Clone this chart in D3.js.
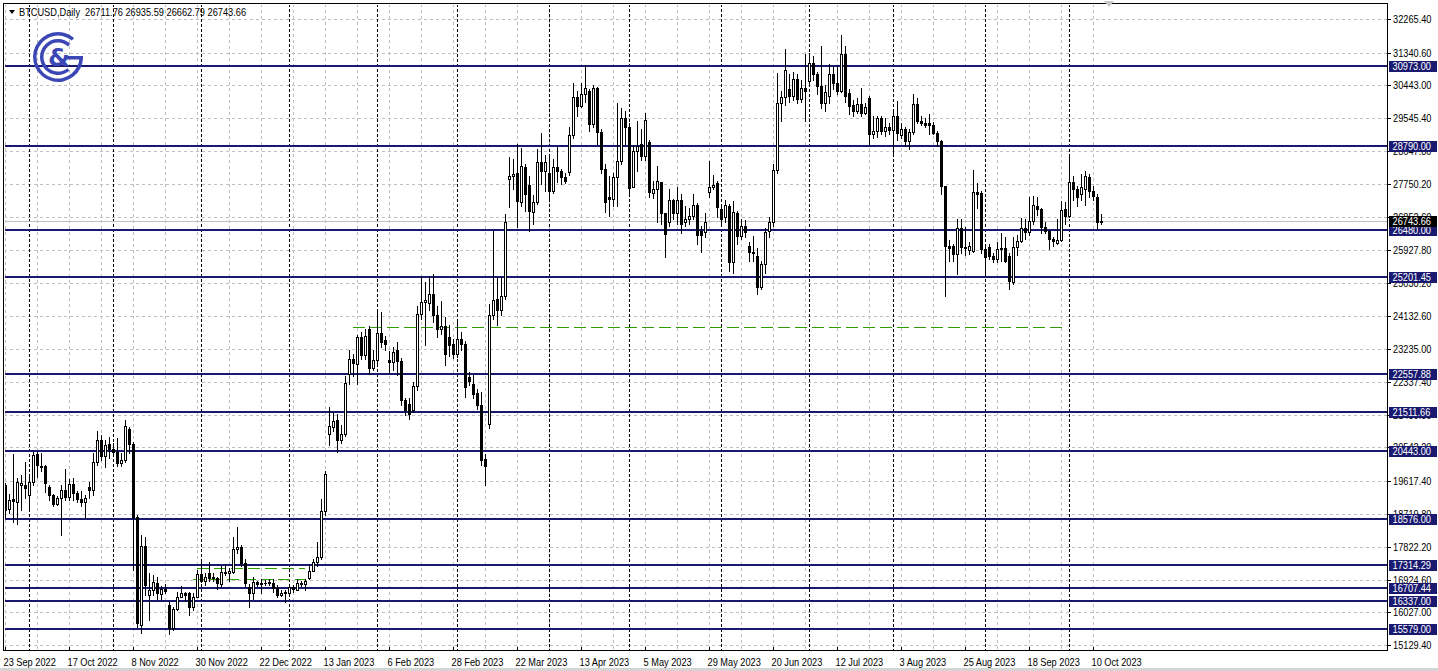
<!DOCTYPE html>
<html><head><meta charset="utf-8">
<script src="https://cdn.jsdelivr.net/npm/d3@7"></script>
<style>
html,body{margin:0;padding:0;background:#fff;overflow:hidden;}
svg{display:block;}
text{font-family:"Liberation Sans",Arial,sans-serif;font-size:11px;}
</style></head><body>
<svg id="c" width="1438" height="671"></svg>
<script>
// ---------------- DATA ----------------
const symbolTitle = "BTCUSD,Daily";
const lastQuote = [26711.76, 26935.59, 26662.79, 26743.66];
const firstDay = new Date(2022, 8, 23), lastDay = new Date(2023, 9, 12);
const priceTicks = [32265.40,31340.60,30443.00,29545.40,28647.80,27750.20,26852.60,25927.80,25030.20,24132.60,23235.00,22337.40,21439.80,20542.20,19617.40,18719.80,17822.20,16924.60,16027.00,15129.40];
const levels = [30973.00,28790.00,26480.00,25201.45,22557.88,21511.66,20443.00,18576.00,17314.29,16707.44,16337.00,15579.00];
const dateTickLabels = ["23 Sep 2022","17 Oct 2022","8 Nov 2022","30 Nov 2022","22 Dec 2022","13 Jan 2023","6 Feb 2023","28 Feb 2023","22 Mar 2023","13 Apr 2023","5 May 2023","29 May 2023","20 Jun 2023","12 Jul 2023","3 Aug 2023","25 Aug 2023","18 Sep 2023","10 Oct 2023"];
const greenLevels = [{p:23830, from:"2023-01-24", to:"2023-09-29"},{p:17252, from:"2022-11-30", to:"2023-01-06"},{p:16935, from:"2022-11-29", to:"2023-01-06"}];
// OHLC per month (weekday bars): [open, high, low, close]
const sep22 = [[19510,19560,18600,18830],[18870,19280,18740,19100],[19120,20370,18500,19070],[19050,19700,18460,19600],[19510,19780,18830,19560],[19510,20145,19145,19420]];
const oct22 = [[19240,19740,18830,19600],[19600,20420,19500,20330],[20370,20420,19740,20055],[20000,20400,19900,20030],[20030,20060,19330,19555],[19460,19520,19100,19230],[19230,19260,18950,19000],[18980,19220,18960,19160],[19160,19500,18150,19380],[19380,19940,19100,19180],[19190,19690,19100,19530],[19530,19700,19100,19300],[19300,19350,19050,19130],[19130,19350,18930,19040],[19040,19250,18600,19160],[19460,19600,19150,19370],[19370,20400,19250,20145],[20145,20990,20060,20740],[20740,20870,20200,20300],[20300,20750,20000,20600],[20640,20830,20240,20490]];
const nov22 = [[20490,20650,20360,20420],[20420,20800,20040,20119],[20119,20390,20030,20210],[20210,21283,20150,21120],[21056,21100,20400,20646],[20646,20700,17200,18645],[18645,18700,15642,15733],[15688,18145,15460,17844],[17844,18100,16500,16780],[16500,17100,15830,16650],[16650,17050,16500,16870],[16843,17000,16400,16552],[16525,16750,16400,16661],[16661,16800,16550,16620],[16234,16300,15433,15597],[15597,16180,15550,16125],[16125,16600,16100,16461],[16461,16750,16450,16552],[16552,16600,16350,16500],[16552,16600,15960,16188],[16188,16550,16100,16461],[16461,17200,16450,17080]];
const dec22 = [[17080,17417,16850,16898],[16898,17100,16780,16990],[17100,17417,16900,16962],[16962,17100,16900,16990],[16962,17000,16680,16825],[16807,17300,16750,17143],[17143,17350,17050,17100],[17100,17250,16900,17160],[17143,18099,17100,17753],[17753,18372,17650,17810],[17826,17870,17300,17371],[17371,17500,16750,16825],[16734,16800,16188,16552],[16552,17000,16400,16871],[16871,16900,16750,16810],[16810,16950,16560,16825],[16825,16920,16780,16830],[16830,16950,16780,16850],[16825,16950,16600,16689],[16689,16770,16450,16507],[16507,16650,16480,16570],[16600,16650,16325,16550]];
const jan23 = [[16570,16780,16540,16734],[16734,16780,16600,16680],[16643,16950,16630,16825],[16825,16880,16750,16800],[16800,16950,16650,16900],[16962,17350,16950,17170],[17170,17480,17150,17417],[17417,17950,17300,17553],[17553,19118,17500,18800],[18800,19900,18700,19827],[20920,21647,20601,21120],[21101,21510,21000,21265],[21302,21465,20419,20738],[20756,21150,20660,20920],[20920,22500,20850,22302],[22557,23194,22284,22966],[22966,23100,22500,22840],[22830,23603,22284,23558],[23558,23700,22950,23057],[23057,23785,22950,23576],[23785,23850,22550,22721],[22721,23200,22650,22921]];
const feb23 = [[22921,24240,22800,23667],[23667,24240,23300,23420],[23485,23600,23200,23358],[22939,23190,22570,22875],[22875,23300,22650,23148],[23194,23425,22510,22903],[22903,23000,21700,21829],[21829,21900,21420,21556],[21720,21900,21330,21447],[21574,22320,21500,22211],[22211,24400,22100,24177],[24177,25241,24050,24510],[24510,25059,23330,24577],[24486,25241,24300,24741],[24741,25290,23960,24149],[24149,24400,23560,23785],[23785,24550,23650,23850],[23850,24104,22800,23103],[23558,23900,23050,23330],[23376,23500,23000,23103]];
const mar23 = [[23103,24012,23012,23512],[23512,23700,23200,23376],[23376,23450,21920,22193],[22466,22600,22250,22357],[22284,22550,21900,22011],[22030,22150,21580,21700],[21700,22050,20050,20192],[20237,20350,19509,20028],[21192,24450,21060,24149],[24149,26469,24050,24559],[24604,25200,23900,24286],[24290,25195,24150,24695],[24695,26924,24600,26697],[27879,28471,27106,27970],[27970,28430,27600,28016],[28043,28834,26560,27288],[27242,28743,27150,28243],[28198,28300,27000,27480],[27725,27950,26469,27015],[26970,27450,26650,27242],[27242,28700,27200,28334],[28334,29153,27750,28107],[28107,28550,27550,28352]];
const apr23 = [[28034,28480,27300,27543],[27543,28420,27500,28216],[28216,28750,27800,28107],[28107,28150,27750,27925],[27943,28050,27780,27834],[28061,29300,28000,29090],[29090,30500,29000,30127],[30127,30300,29600,29881],[29881,30500,29850,30199],[30199,31000,30000,30381],[30290,30350,29200,29399],[29399,30450,29300,30381],[30381,30400,28830,29180],[29180,29250,28050,28152],[28152,28300,26970,27242],[27397,27960,26880,27330],[27330,28050,27150,27943],[27943,29972,27152,28380],[28380,29835,28300,29563],[29563,29745,28830,29308]];
const may23 = [[29308,29400,27500,27634],[27670,28800,27650,28653],[28653,29470,28100,28789],[28835,29250,28400,28516],[28516,29700,28400,29490],[28880,28950,27400,27516],[27489,27820,27350,27606],[27606,28243,26697,27834],[27788,27800,26650,26942],[26942,26950,25741,26378],[26697,27600,26600,27306],[27306,27330,26800,26942],[26942,27650,26650,27306],[27306,27470,26400,26651],[26697,27150,26600,26788],[26788,27100,26650,26878],[26878,27470,26800,27178],[27178,27220,26100,26360],[26470,26600,25878,26360],[26424,26950,26300,26697],[27515,28380,27400,27652],[27652,28000,27600,27725],[27761,27830,26850,27106]];
const jun23 = [[27060,27150,26600,26788],[26833,27300,26700,27178],[27151,27200,25377,25605],[25605,27288,25300,26970],[26942,27000,26100,26333],[26333,26800,26250,26606],[26606,26750,26300,26424],[26060,26150,25650,25878],[25878,26333,25650,25850],[25787,26000,24741,24923],[24923,25650,24880,25559],[25559,26550,25300,26424],[26469,26830,26300,26697],[26697,28300,26600,28125],[28125,30791,28050,29972],[29972,30300,29470,30127],[30127,31428,29900,30854],[30336,30740,30000,30154],[30154,30800,30050,30609],[30609,30740,29950,30063],[30063,30600,30000,30363],[30363,31291,29472,30300]];
const jul23 = [[30563,31336,30450,31064],[31064,31245,30600,30745],[30745,30800,30200,30427],[30427,31518,29835,29950],[29950,30450,29750,30270],[30154,31018,29950,30745],[30745,30950,30350,30518],[30518,30973,30200,30290],[30290,31819,30250,31309],[31309,31520,30000,30154],[30245,30350,29650,29881],[29909,30050,29600,29745],[29745,30100,29700,29927],[29927,30382,29600,29699],[29699,29950,29650,29854],[30108,30150,28800,29108],[29108,29610,29000,29199],[29199,29610,29020,29544],[29544,29600,29100,29199],[29199,29560,29050,29290],[29290,29400,29100,29220]];
const aug23 = [[29220,29750,28550,29600],[29600,30017,28950,29150],[29090,29400,29000,29262],[29262,29300,28790,28926],[28926,29250,28700,29171],[29171,30199,29100,29945],[29945,30108,29400,29472],[29472,29600,29350,29426],[29426,29540,29300,29360],[29400,29650,29100,29362],[29362,29450,29100,29153],[29153,29200,28790,28908],[28908,28950,27470,27697],[27697,27700,24695,26060],[26060,26200,25650,25990],[26060,26100,25650,25832],[25832,26788,25286,26542],[26542,26788,25850,26014],[26030,26560,25790,26000],[25950,26150,25830,26050],[25923,28125,25880,27534],[27534,27760,27100,27480],[27488,27560,25850,25969]];
const sep23 = [[25969,26050,25241,25742],[26032,26100,25700,25787],[25787,25850,25600,25696],[25696,26150,25600,25969],[25969,26400,25650,26000],[25997,26300,25600,25650],[25787,25850,24877,25105],[25059,26287,25000,26032],[26032,26350,25800,26196],[26196,26815,26150,26542],[26542,26800,26250,26424],[26424,27400,26350,26742],[26742,27420,26650,27170],[27152,27380,26900,27060],[27060,27100,26400,26578],[26578,26700,26400,26451],[26469,26500,25970,26242],[26242,26300,26060,26180],[26124,26800,26100,26215],[26215,27288,26180,27033],[27060,27250,26650,26879]];
const oct23 = [[26879,28562,26830,27788],[27788,27950,27300,27607],[27607,27700,27150,27379],[27470,28016,27300,27652],[27607,28100,27180,27970],[27925,28016,27380,27561],[27561,27700,27300,27425],[27397,27480,26515,26697],[26711.76,26935.59,26662.79,26743.66]];

// ---------------- BUILD ----------------
const W = 1438, H = 671;
const plotL = 4, plotR = 1387, plotT = 4, plotB = 650;
const NAVY = "#191970", GRID = "#c0c0c0", LOGO = "#3b47b4", GREEN = "#2e9e00";
const SX = 0.84; // horizontal condensing of the Tahoma-like chart font
const svg = d3.select("#c");

const days = d3.timeDay.range(firstDay, d3.timeDay.offset(lastDay, 1)).filter(d => d.getDay() !== 0 && d.getDay() !== 6);
const ohlc = [].concat(sep22, oct22, nov22, dec22, jan23, feb23, mar23, apr23, may23, jun23, jul23, aug23, sep23, oct23);
const bars = days.map((d, i) => ({date: d, o: ohlc[i][0], h: ohlc[i][1], l: ohlc[i][2], c: ohlc[i][3]}));
const fmtKey = d3.timeFormat("%Y-%m-%d");
const keys = days.map(fmtKey);

const x = d3.scalePoint().domain(keys).range([5.5, 5.5 + 4 * (keys.length - 1)]);
const y = d3.scaleLinear().domain([15129.4, 32265.4]).range([645.3, 18.7]);
const col = k => Math.floor(x(k));
const py = p => Math.round(y(p));
const f2 = d3.format(".2f");

function label(g, tx, ty, str, fill) {
  return g.append("text").attr("transform", `translate(${tx},${ty}) scale(${SX},1)`).attr("fill", fill).text(str);
}

svg.append("rect").attr("width", W).attr("height", H).attr("fill", "#fff");

const plot = svg.append("g").attr("shape-rendering", "crispEdges");
svg.append("clipPath").attr("id", "pc").append("rect")
  .attr("x", plotL + 1).attr("y", plotT + 1).attr("width", plotR - plotL - 1).attr("height", plotB - plotT - 1);
const inner = plot.append("g").attr("clip-path", "url(#pc)");

// grid: verticals every 8 bars, horizontals at price ticks
const gridKeys = keys.filter((k, i) => i % 8 === 0);
inner.selectAll(".vg").data(gridKeys).join("line")
  .attr("x1", k => col(k) + 0.5).attr("x2", k => col(k) + 0.5)
  .attr("y1", plotT).attr("y2", plotB)
  .attr("stroke", GRID).attr("stroke-dasharray", "3,3");
inner.selectAll(".hg").data(priceTicks).join("line")
  .attr("x1", plotL).attr("x2", plotR)
  .attr("y1", p => py(p) + 0.5).attr("y2", p => py(p) + 0.5)
  .attr("stroke", GRID).attr("stroke-dasharray", "3,3");

// monthly period separators
const sepKeys = keys.filter((k, i) => i > 0 && days[i].getMonth() !== days[i - 1].getMonth());
inner.selectAll(".sep").data(sepKeys).join("line")
  .attr("x1", k => col(k) + 0.5).attr("x2", k => col(k) + 0.5)
  .attr("y1", plotT).attr("y2", plotB)
  .attr("stroke", "#000").attr("stroke-dasharray", "3,2");

// logo
const lg = svg.append("g").attr("transform", "translate(58,57)").attr("fill", LOGO);
lg.append("path").attr("d", d3.arc()({innerRadius: 21.5, outerRadius: 25, startAngle: Math.PI / 2, endAngle: 2 * Math.PI + 0.7}));
lg.append("path").attr("d", d3.arc()({innerRadius: 14.5, outerRadius: 18, startAngle: 2.45, endAngle: 2 * Math.PI + 0.75}));
lg.append("rect").attr("x", 9).attr("y", -1).attr("width", 16).attr("height", 3.5);
lg.append("text").attr("x", 1).attr("y", 9).attr("text-anchor", "middle")
  .style("font-family", "DejaVu Sans, sans-serif").style("font-size", "25px").style("font-weight", "bold").text("&");

// green dashed levels
inner.selectAll(".gl").data(greenLevels).join("line")
  .attr("x1", d => col(d.from)).attr("x2", d => col(d.to))
  .attr("y1", d => py(d.p) + 0.5).attr("y2", d => py(d.p) + 0.5)
  .attr("stroke", GREEN).attr("stroke-width", 1).attr("stroke-dasharray", "12,5");

// current price (bid) line
inner.append("line").attr("x1", plotL).attr("x2", plotR)
  .attr("y1", py(lastQuote[3]) + 0.5).attr("y2", py(lastQuote[3]) + 0.5).attr("stroke", GRID);

// level lines
inner.selectAll(".lv").data(levels).join("rect")
  .attr("x", plotL).attr("width", plotR - plotL).attr("y", p => py(p) - 1).attr("height", 2).attr("fill", NAVY);

// candles
const cg = inner.append("g");
cg.selectAll(".wick").data(bars).join("rect")
  .attr("x", d => col(fmtKey(d.date))).attr("width", 1)
  .attr("y", d => py(d.h)).attr("height", d => py(d.l) - py(d.h) + 1).attr("fill", "#000");
cg.selectAll(".body").data(bars).join("rect")
  .each(function(d) {
    const c = col(fmtKey(d.date)), yo = py(d.o), yc = py(d.c);
    const s = d3.select(this);
    if (yo === yc) {
      s.attr("x", c - 1).attr("y", yo).attr("width", 3).attr("height", 1).attr("fill", "#000");
    } else if (d.c > d.o) {
      s.attr("x", c - 0.5).attr("y", yc + 0.5).attr("width", 2).attr("height", yo - yc)
       .attr("fill", "#fff").attr("stroke", "#000").attr("stroke-width", 1);
    } else {
      s.attr("x", c - 1).attr("y", yo).attr("width", 3).attr("height", yc - yo + 1).attr("fill", "#000");
    }
  });

// frame
plot.append("rect").attr("x", plotL - 0.5).attr("y", plotT - 0.5)
  .attr("width", plotR - plotL + 1).attr("height", plotB - plotT + 1)
  .attr("fill", "none").attr("stroke", "#000");
svg.append("line").attr("x1", 0).attr("x2", W).attr("y1", 669.5).attr("y2", 669.5).attr("stroke", "#d4d4d4").attr("stroke-width", 3);

// chart shift marker
svg.append("path").attr("d", "M1104,1 L1114,1 L1109,7 Z").attr("fill", "#c8c8c8");

// right price axis
const yAxis = d3.axisRight(y).tickValues(priceTicks).tickSize(3).tickFormat(f2);
const ya = svg.append("g").attr("transform", `translate(${plotR + 0.5},0)`).call(yAxis);
ya.attr("font-family", null).attr("font-size", null);
ya.select(".domain").remove();
ya.selectAll(".tick").attr("transform", p => `translate(0,${py(p) + 0.5})`);
ya.selectAll(".tick line").attr("stroke", "#000").attr("shape-rendering", "crispEdges");
ya.selectAll(".tick text").attr("fill", "#000").attr("x", null).attr("dy", null)
  .attr("transform", `translate(5.5,3.5) scale(${SX},1)`);

// level price labels
const lvl = svg.append("g");
lvl.selectAll("rect").data(levels).join("rect")
  .attr("x", 1389).attr("y", p => py(p) - 5).attr("width", 48).attr("height", 11).attr("fill", NAVY).attr("shape-rendering", "crispEdges");
levels.forEach(p => label(lvl, 1392.5, py(p) + 4, f2(p), "#fff"));
// bid label
svg.append("rect").attr("x", 1389).attr("y", py(lastQuote[3]) - 5).attr("width", 48).attr("height", 11).attr("fill", "#000").attr("shape-rendering", "crispEdges");
label(svg, 1392.5, py(lastQuote[3]) + 4, f2(lastQuote[3]), "#fff");

// bottom time axis
const tickKeys = keys.filter((k, i) => i % 16 === 0);
const xAxis = d3.axisBottom(x).tickValues(tickKeys).tickSize(3).tickFormat((k, i) => dateTickLabels[i]);
const xa = svg.append("g").attr("transform", `translate(0,${plotB})`).call(xAxis);
xa.attr("font-family", null).attr("font-size", null);
xa.select(".domain").remove();
xa.selectAll(".tick").attr("transform", k => `translate(${col(k) + 0.5},0)`);
xa.selectAll(".tick line").attr("stroke", "#000").attr("y1", -3).attr("y2", 0).attr("shape-rendering", "crispEdges");
xa.selectAll(".tick text").attr("text-anchor", "start").attr("x", null).attr("y", null).attr("dy", null)
  .attr("fill", "#000").attr("transform", `translate(-2,16) scale(${SX},1)`);

// title
svg.append("path").attr("d", "M9,10 L15,10 L12,14 Z").attr("fill", "#000");
label(svg, 19, 16, symbolTitle + "  " + lastQuote.map(f2).join(" "), "#000").attr("xml:space", "preserve");
</script>
</body></html>
